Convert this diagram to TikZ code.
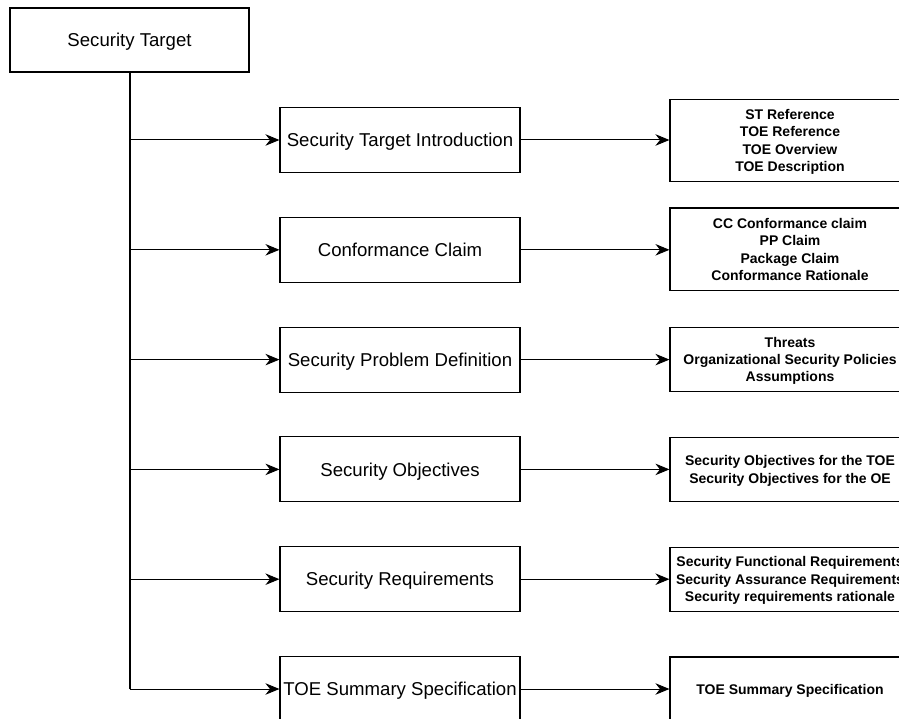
\documentclass[tikz,border=0pt]{standalone}
\usepackage{fontspec}
\setmainfont{Liberation Sans}
\usetikzlibrary{arrows.meta}
\begin{document}
\begin{tikzpicture}[x=1pt,y=-1pt,
  box/.style={draw, line width=1.1pt, minimum width=240pt, minimum height=65pt,
    inner sep=0pt, align=center, text depth=0pt,
    font=\fontsize{18.6}{22}\selectfont},
  detail/.style={draw, line width=1.1pt, minimum width=240pt, inner sep=0pt,
    align=center, text depth=-4pt,
    font=\bfseries\fontsize{14}{17.3}\selectfont},
  tip/.style={-{Stealth[length=14pt,width=11.5pt,inset=4.5pt]}},
  link/.style={line width=1pt, tip},
  trunk/.style={line width=2pt}]
\useasboundingbox (0,0) rectangle (899,719);
\clip (0,0) rectangle (899,719);

% root
\node[box, minimum width=239pt, minimum height=64pt] (st) at (129.5,40) {Security Target};

% ST sections
\node[box] (m1) at (400,140)   {Security Target Introduction};
\node[box] (m2) at (400,249.8) {Conformance Claim};
\node[box] (m3) at (400,359.6) {Security Problem Definition};
\node[box] (m4) at (400,469.4) {Security Objectives};
\node[box] (m5) at (400,579.2) {Security Requirements};
\node[box] (m6) at (400,689)   {TOE Summary Specification};

% section contents
\node[detail, minimum height=82.5pt] (d1) at (790,140.5)
  {ST Reference\\TOE Reference\\TOE Overview\\TOE Description};
\node[detail, minimum height=82.5pt] (d2) at (790,249.3)
  {CC Conformance claim\\PP Claim\\Package Claim\\Conformance Rationale};
\node[detail, minimum height=64pt] (d3) at (790,359.3)
  {Threats\\Organizational Security Policies\\Assumptions};
\node[detail, minimum height=64pt] (d4) at (790,469.4)
  {Security Objectives for the TOE\\Security Objectives for the OE};
\node[detail, minimum height=64pt] (d5) at (790,579.2)
  {Security Functional Requirements\\Security Assurance Requirements\\Security requirements rationale};
\node[detail, minimum height=64pt] (d6) at (790,689)
  {TOE Summary Specification};

% trunk and branches
\draw[trunk] (st.south) -- (st.south |- m6.west);
\draw[link] (st.south |- m6.west) -- (m6.west);
\foreach \i in {1,...,5}
  \draw[link] (st.south |- m\i.west) -- (m\i.west);

% section to contents
\foreach \i in {1,...,6}
  \draw[link] (m\i.east) -- (d\i.west |- m\i.east);
\end{tikzpicture}
\end{document}
